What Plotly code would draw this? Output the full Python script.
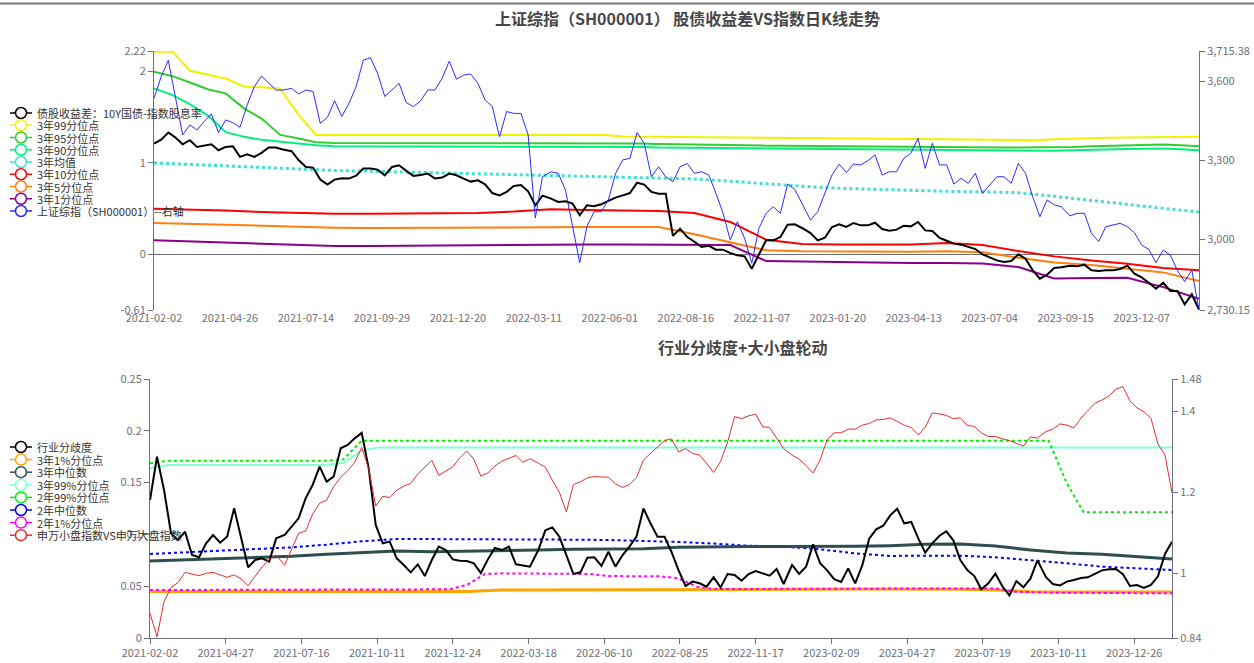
import numpy as np
import pandas as pd
import plotly.graph_objects as go

# ---------------- trading calendar ----------------
HOLIDAYS = [
    "2021-02-11", "2021-02-12", "2021-02-15", "2021-02-16", "2021-02-17", "2021-04-05",
    "2021-05-03", "2021-05-04", "2021-05-05", "2021-06-14", "2021-09-20", "2021-09-21",
    "2021-10-01", "2021-10-04", "2021-10-05", "2021-10-06", "2021-10-07",
    "2022-01-03", "2022-01-31", "2022-02-01", "2022-02-02", "2022-02-03", "2022-02-04",
    "2022-04-04", "2022-04-05", "2022-05-02", "2022-05-03", "2022-05-04", "2022-06-03",
    "2022-09-12", "2022-10-03", "2022-10-04", "2022-10-05", "2022-10-06", "2022-10-07",
    "2023-01-02", "2023-01-23", "2023-01-24", "2023-01-25", "2023-01-26", "2023-01-27",
    "2023-04-05", "2023-05-01", "2023-05-02", "2023-05-03", "2023-06-22", "2023-06-23",
    "2023-09-29", "2023-10-02", "2023-10-03", "2023-10-04", "2023-10-05", "2023-10-06",
    "2024-01-01",
]
START, END = "2021-02-02", "2024-02-02"

TOP_TICKS = ["2021-02-02", "2021-04-26", "2021-07-14", "2021-09-29", "2021-12-20",
             "2022-03-11", "2022-06-01", "2022-08-16", "2022-11-07", "2023-01-20",
             "2023-04-13", "2023-07-04", "2023-09-15", "2023-12-07"]
BOT_TICKS = ["2021-02-02", "2021-04-27", "2021-07-16", "2021-10-11", "2021-12-24",
             "2022-03-18", "2022-06-10", "2022-08-25", "2022-11-17", "2023-02-09",
             "2023-04-27", "2023-07-19", "2023-10-11", "2023-12-26"]

# ---------------- top chart data ----------------
sh_index = [3535, 3618, 3680, 3542, 3396, 3434, 3415, 3447, 3476, 3405,
            3453, 3443, 3425, 3510, 3580, 3620, 3595, 3567, 3567, 3573,
            3552, 3567, 3561, 3440, 3463, 3526, 3466, 3516, 3580, 3680,
            3690, 3630, 3542, 3569, 3592, 3519, 3504, 3526, 3567, 3567,
            3611, 3677, 3608, 3624, 3628, 3592, 3529, 3504, 3389, 3485,
            3478, 3478, 3396, 3080, 3237, 3256, 3250, 3187, 3047, 2910,
            3047, 3104, 3104, 3149, 3250, 3301, 3307, 3405, 3364, 3237,
            3275, 3237, 3218, 3275, 3288, 3250, 3256, 3244, 3174, 3098,
            2996, 3066, 3003, 2908, 3041, 3098, 3123, 3098, 3209, 3189,
            3136, 3072, 3104, 3171, 3244, 3285, 3253, 3285, 3282, 3298,
            3320, 3244, 3256, 3256, 3307, 3326, 3383, 3269, 3364, 3282,
            3282, 3209, 3231, 3212, 3250, 3174, 3206, 3237, 3237, 3212,
            3288, 3250, 3161, 3085, 3149, 3130, 3123, 3088, 3098, 3098,
            3022, 2990, 3047, 3053, 3060, 3047, 3024, 2977, 2961, 2910,
            2958, 2939, 2880, 2838, 2882, 2730.15]

spread = [1.209, 1.252, 1.329, 1.274, 1.201, 1.245, 1.172, 1.183, 1.201, 1.136,
          1.172, 1.179, 1.063, 1.092, 1.063, 1.107, 1.165, 1.165, 1.143, 1.125,
          1.026, 0.953, 0.946, 0.815, 0.760, 0.815, 0.829, 0.826, 0.858, 0.935,
          0.935, 0.924, 0.862, 0.953, 0.972, 0.910, 0.855, 0.866, 0.880, 0.826,
          0.837, 0.880, 0.862, 0.826, 0.793, 0.807, 0.763, 0.668, 0.643, 0.680,
          0.745, 0.756, 0.687, 0.534, 0.640, 0.607, 0.571, 0.578, 0.552, 0.425,
          0.534, 0.523, 0.545, 0.582, 0.618, 0.643, 0.668, 0.781, 0.760, 0.680,
          0.661, 0.661, 0.200, 0.279, 0.187, 0.136, 0.078, 0.093, 0.049, 0.049,
          0.012, -0.013, -0.024, -0.159, 0.005, 0.151, 0.151, 0.187, 0.322, 0.326,
          0.286, 0.231, 0.151, 0.180, 0.297, 0.326, 0.297, 0.341, 0.315, 0.315,
          0.344, 0.275, 0.257, 0.268, 0.311, 0.304, 0.352, 0.260, 0.253, 0.177,
          0.147, 0.115, 0.104, 0.078, 0.056, -0.002, -0.031, -0.068, -0.086, -0.075,
          -0.002, -0.050, -0.177, -0.268, -0.225, -0.152, -0.144, -0.126, -0.133, -0.115,
          -0.177, -0.184, -0.177, -0.177, -0.162, -0.126, -0.213, -0.253, -0.312, -0.378,
          -0.312, -0.403, -0.403, -0.549, -0.439, -0.607]

p99_3y = [2.211, 2.211, 2.004, 1.964, 1.919, 1.829, 1.825, 1.810, 1.519, 1.303,
          1.303, 1.305, 1.306, 1.306, 1.306, 1.306, 1.306, 1.306, 1.306, 1.306,
          1.306, 1.306, 1.305, 1.305, 1.304, 1.303, 1.285, 1.283, 1.282, 1.281,
          1.280, 1.278, 1.275, 1.272, 1.269, 1.266, 1.264, 1.262, 1.260, 1.259,
          1.258, 1.257, 1.256, 1.256, 1.255, 1.254, 1.254, 1.253, 1.253, 1.246,
          1.255, 1.262, 1.271, 1.273, 1.276, 1.278, 1.280, 1.282, 1.282]

p95_3y = [1.993, 1.945, 1.876, 1.799, 1.757, 1.591, 1.482, 1.303, 1.263, 1.223,
          1.216, 1.216, 1.216, 1.216, 1.216, 1.216, 1.216, 1.216, 1.216, 1.216,
          1.216, 1.216, 1.216, 1.216, 1.216, 1.216, 1.216, 1.208, 1.205, 1.201,
          1.198, 1.195, 1.192, 1.189, 1.186, 1.184, 1.182, 1.180, 1.179, 1.177,
          1.176, 1.174, 1.173, 1.171, 1.170, 1.168, 1.167, 1.166, 1.165, 1.165,
          1.166, 1.170, 1.179, 1.184, 1.190, 1.195, 1.198, 1.190, 1.179]

p90_3y = [1.810, 1.738, 1.639, 1.508, 1.333, 1.282, 1.249, 1.227, 1.205, 1.190,
          1.179, 1.179, 1.179, 1.178, 1.178, 1.178, 1.177, 1.177, 1.176, 1.176,
          1.175, 1.175, 1.174, 1.174, 1.173, 1.173, 1.172, 1.172, 1.165, 1.165,
          1.163, 1.161, 1.159, 1.158, 1.156, 1.155, 1.153, 1.152, 1.150, 1.148,
          1.146, 1.144, 1.142, 1.140, 1.138, 1.136, 1.134, 1.132, 1.130, 1.128,
          1.130, 1.136, 1.143, 1.147, 1.150, 1.152, 1.154, 1.146, 1.136]

mean_3y = [0.997, 0.979, 0.961, 0.943, 0.925, 0.914, 0.906, 0.897, 0.889, 0.881,
           0.873, 0.862, 0.851, 0.844, 0.833, 0.822, 0.797, 0.768, 0.742, 0.720,
           0.705, 0.698, 0.687, 0.680, 0.672, 0.632, 0.585, 0.541, 0.501, 0.461]

p10_3y = [0.497, 0.490, 0.476, 0.461, 0.450, 0.443, 0.443, 0.446, 0.450, 0.450,
          0.465, 0.490, 0.483, 0.479, 0.472, 0.450, 0.352, 0.158, 0.111, 0.107,
          0.107, 0.107, 0.122, 0.100, 0.034, -0.024, -0.068, -0.104, -0.152, -0.177]

p5_3y = [0.341, 0.330, 0.319, 0.308, 0.297, 0.290, 0.286, 0.286, 0.290, 0.290,
         0.293, 0.293, 0.297, 0.297, 0.297, 0.217, 0.133, 0.042, 0.031, 0.027,
         0.023, 0.027, 0.031, 0.020, -0.039, -0.090, -0.119, -0.163, -0.199, -0.294]

p1_3y = [0.151, 0.140, 0.129, 0.115, 0.100, 0.089, 0.089, 0.093, 0.096, 0.096,
         0.100, 0.104, 0.107, 0.107, 0.107, 0.104, 0.100, -0.075, -0.082, -0.090,
         -0.097, -0.097, -0.097, -0.101, -0.141, -0.265, -0.261, -0.257, -0.360, -0.487]

TOP_NAMES = ["债股收益差：10Y国债-指数股息率", "3年99分位点", "3年95分位点", "3年90分位点",
             "3年均值", "3年10分位点", "3年5分位点", "3年1分位点", "上证综指（SH000001）--右轴"]

# ---------------- bottom chart data ----------------
divergence = [0.1332, 0.1750, 0.1429, 0.1010, 0.0946, 0.1026, 0.0801, 0.0779, 0.0914, 0.0994,
              0.0920, 0.0978, 0.1252, 0.0962, 0.0682, 0.0753, 0.0769, 0.0737, 0.0962, 0.0994,
              0.1075, 0.1155, 0.1348, 0.1477, 0.1654, 0.1509, 0.1557, 0.1831, 0.1863, 0.1927,
              0.1980, 0.1638, 0.1091, 0.0914, 0.0930, 0.0769, 0.0705, 0.0634, 0.0711, 0.0598,
              0.0753, 0.0882, 0.0849, 0.0759, 0.0746, 0.0743, 0.0721, 0.0627, 0.0759, 0.0869,
              0.0849, 0.0882, 0.0711, 0.0698, 0.0689, 0.0849, 0.1039, 0.1068, 0.0978, 0.0801,
              0.0618, 0.0634, 0.0775, 0.0779, 0.0695, 0.0833, 0.0689, 0.0798, 0.0882, 0.0978,
              0.1250, 0.1107, 0.0978, 0.0978, 0.0830, 0.0656, 0.0502, 0.0544, 0.0528, 0.0495,
              0.0586, 0.0489, 0.0618, 0.0608, 0.0553, 0.0618, 0.0647, 0.0624, 0.0602, 0.0666,
              0.0521, 0.0705, 0.0618, 0.0689, 0.0904, 0.0721, 0.0653, 0.0569, 0.0541, 0.0672,
              0.0528, 0.0698, 0.0959, 0.1049, 0.1084, 0.1184, 0.1248, 0.1107, 0.1120, 0.0962,
              0.0824, 0.0914, 0.0985, 0.1030, 0.0943, 0.0753, 0.0656, 0.0598, 0.0470, 0.0528,
              0.0621, 0.0499, 0.0412, 0.0550, 0.0489, 0.0573, 0.0750, 0.0589, 0.0521, 0.0508,
              0.0544, 0.0560, 0.0579, 0.0586, 0.0621, 0.0653, 0.0663, 0.0666, 0.0615, 0.0502,
              0.0512, 0.0483, 0.0512, 0.0595, 0.0811, 0.0930]

small_vs_large = [0.901, 0.843, 0.930, 0.965, 0.977, 1.002, 0.998, 0.994, 1.000, 1.002,
                  0.996, 0.990, 0.996, 0.986, 0.969, 0.991, 1.016, 1.034, 1.045, 1.020,
                  1.058, 1.099, 1.104, 1.146, 1.173, 1.181, 1.214, 1.237, 1.253, 1.274,
                  1.311, 1.258, 1.166, 1.190, 1.187, 1.205, 1.215, 1.222, 1.245, 1.263,
                  1.279, 1.242, 1.252, 1.263, 1.285, 1.302, 1.282, 1.240, 1.248, 1.265,
                  1.277, 1.284, 1.291, 1.274, 1.283, 1.272, 1.262, 1.230, 1.200, 1.151,
                  1.219, 1.226, 1.236, 1.239, 1.238, 1.237, 1.221, 1.212, 1.219, 1.236,
                  1.280, 1.296, 1.314, 1.328, 1.332, 1.300, 1.308, 1.296, 1.292, 1.272,
                  1.249, 1.276, 1.324, 1.387, 1.382, 1.389, 1.393, 1.362, 1.360, 1.333,
                  1.308, 1.292, 1.282, 1.266, 1.248, 1.280, 1.330, 1.347, 1.347, 1.356,
                  1.356, 1.366, 1.370, 1.379, 1.380, 1.384, 1.374, 1.366, 1.360, 1.342,
                  1.361, 1.396, 1.394, 1.390, 1.382, 1.384, 1.365, 1.363, 1.347, 1.338,
                  1.338, 1.332, 1.328, 1.321, 1.314, 1.337, 1.334, 1.350, 1.356, 1.369,
                  1.366, 1.359, 1.383, 1.402, 1.420, 1.428, 1.438, 1.455, 1.461, 1.426,
                  1.409, 1.399, 1.383, 1.319, 1.292, 1.198]

d_p1_3y = [0.0450, 0.0450, 0.0450, 0.0450, 0.0450, 0.0450, 0.0450, 0.0450, 0.0450, 0.0450,
           0.0463, 0.0463, 0.0463, 0.0463, 0.0463, 0.0463, 0.0463, 0.0463, 0.0463, 0.0470,
           0.0473, 0.0473, 0.0473, 0.0470, 0.0463, 0.0447, 0.0444, 0.0444, 0.0444, 0.0444]

d_med_3y = [0.0743, 0.0753, 0.0766, 0.0775, 0.0788, 0.0808, 0.0827, 0.0840, 0.0833, 0.0837,
            0.0840, 0.0849, 0.0856, 0.0859, 0.0862, 0.0875, 0.0882, 0.0882, 0.0882, 0.0882,
            0.0885, 0.0891, 0.0904, 0.0907, 0.0888, 0.0849, 0.0820, 0.0808, 0.0785, 0.0763]

d_p99_3y = [0.1638] + [0.1670] * 10 + [0.1692, 0.1808] + [0.1840] * 46

d_p99_2y = [0.1686] + [0.1712] * 10 + [0.1725] + [0.1905] * 40 + [0.1493] + [0.1213] * 6

d_med_2y = [0.0811, 0.0827, 0.0846, 0.0859, 0.0875, 0.0901, 0.0933, 0.0956, 0.0956, 0.0956,
            0.0956, 0.0952, 0.0949, 0.0946, 0.0940, 0.0927, 0.0911, 0.0891, 0.0882, 0.0856,
            0.0817, 0.0792, 0.0795, 0.0795, 0.0779, 0.0753, 0.0721, 0.0689, 0.0672, 0.0656]

d_p1_2y = ([0.0463] * 17 + [0.0470, 0.0512, 0.0618] + [0.0624] * 5 + [0.0618, 0.0598]
           + [0.0595] * 3 + [0.0576, 0.0495] + [0.0473] * 7 + [0.0479] * 10
           + [0.0447, 0.0441, 0.0438, 0.0437, 0.0436, 0.0435, 0.0434, 0.0433, 0.0432, 0.0431])

BOT_NAMES = ["行业分歧度", "3年1%分位点", "3年中位数", "3年99%分位点", "2年99%分位点",
             "2年中位数", "2年1%分位点", "申万小盘指数VS申万大盘指数"]

# ---------------- build ----------------
cal = pd.bdate_range(START, END)
cal = cal[~cal.isin(pd.to_datetime(HOLIDAYS))]


def days(n):
    idx = np.linspace(0, len(cal) - 1, n).round().astype(int)
    return [d.strftime("%Y-%m-%d") for d in cal[idx]]


W, H = 1254, 663       # page body margin is removed by the post script below
FONT = "Noto Sans CJK SC, Noto Sans, sans-serif"
AX = "#6e7079"


def px(xw):  # pixel -> paper x
    return xw / W


def py(yw):  # pixel -> paper y
    return 1 - yw / H


fig = go.Figure()


def line(y, color, width, xa, ya, dash="solid"):
    fig.add_trace(go.Scatter(x=days(len(y)), y=y, mode="lines", xaxis=xa, yaxis=ya,
                             line=dict(color=color, width=width, dash=dash),
                             showlegend=False, hoverinfo="skip"))


# top chart
TOP_COLORS = ["#000000", "#f2f200", "#32cd32", "#00f07a", "#40e0d0",
              "#ff0000", "#ff7f0e", "#8b008b", "#2b2bff"]
line(p99_3y, TOP_COLORS[1], 2, "x", "y")
line(p95_3y, TOP_COLORS[2], 2, "x", "y")
line(p90_3y, TOP_COLORS[3], 2, "x", "y")
line(mean_3y, TOP_COLORS[4], 3, "x", "y", "dot")
line(p10_3y, TOP_COLORS[5], 2, "x", "y")
line(p5_3y, TOP_COLORS[6], 2, "x", "y")
line(p1_3y, TOP_COLORS[7], 2, "x", "y")
line(spread, TOP_COLORS[0], 2, "x", "y")
line(sh_index, TOP_COLORS[8], 1, "x", "y2")

# bottom chart
BOT_COLORS = ["#000000", "#ffa500", "#2f4f4f", "#7fffd4", "#00ee00",
              "#0000ff", "#ff00ff", "#e0302f"]
line(d_p1_3y, BOT_COLORS[1], 3, "x2", "y3")
line(d_p99_3y, BOT_COLORS[3], 2, "x2", "y3")
line(d_p99_2y, BOT_COLORS[4], 2, "x2", "y3", "dot")
line(d_med_2y, BOT_COLORS[5], 2, "x2", "y3", "dot")
line(d_p1_2y, BOT_COLORS[6], 2, "x2", "y3", "dot")
line(d_med_3y, BOT_COLORS[2], 3, "x2", "y3")
line(divergence, BOT_COLORS[0], 2, "x2", "y3")
line(small_vs_large, BOT_COLORS[7], 1, "x2", "y4")

# compact legends (echarts-style: line + open circle, 12px rows)
annotations = []
shapes = [dict(type="line", xref="paper", yref="paper", x0=0, x1=1, y0=py(3.5), y1=py(3.5),
               line=dict(color="#777777", width=2))]


def legend_block(names, colors, y0, step):
    for i, (n, c) in enumerate(zip(names, colors)):
        yc = y0 + step * i
        shapes.append(dict(type="line", xref="paper", yref="paper",
                           x0=px(10), x1=px(32), y0=py(yc), y1=py(yc),
                           line=dict(color=c, width=1.5)))
        shapes.append(dict(type="circle", xref="paper", yref="paper",
                           x0=px(21 - 5.5), x1=px(21 + 5.5), y0=py(yc + 5.5), y1=py(yc - 5.5),
                           line=dict(color=c, width=1.5), fillcolor="white"))
        annotations.append(dict(text=n, x=px(36), y=py(yc), xref="paper", yref="paper",
                                xanchor="left", yanchor="middle", showarrow=False,
                                height=12, borderpad=0,
                                font=dict(size=11, color="#333", family=FONT)))


legend_block(TOP_NAMES, TOP_COLORS, 113, 12.25)
legend_block(BOT_NAMES, BOT_COLORS, 447, 12.6)

annotations += [
    dict(text="<b>上证综指（SH000001） 股债收益差VS指数日K线走势</b>", x=px(687), y=py(18),
         xref="paper", yref="paper", showarrow=False, xanchor="center", yanchor="middle",
         font=dict(size=16, color="#464646", family=FONT)),
    dict(text="<b>行业分歧度+大小盘轮动</b>", x=px(742), y=py(347),
         xref="paper", yref="paper", showarrow=False, xanchor="center", yanchor="middle",
         font=dict(size=16, color="#464646", family=FONT)),
]

rb = [dict(bounds=["sat", "mon"]), dict(values=HOLIDAYS)]
XRANGE = [cal[0].strftime("%Y-%m-%d"), cal[-1].strftime("%Y-%m-%d")]
xcommon = dict(type="date", range=XRANGE, rangebreaks=rb, showgrid=False, zeroline=False,
               tickfont=dict(size=11, color=AX, family=FONT))
ycommon = dict(showgrid=False, showline=True, linecolor=AX, linewidth=1,
               ticks="outside", ticklen=5, tickcolor=AX,
               tickfont=dict(size=11, color=AX, family=FONT))

fig.update_layout(
    width=W, height=H,
    margin=dict(l=0, r=0, t=0, b=0, autoexpand=False),
    paper_bgcolor="white", plot_bgcolor="white",
    font=dict(family=FONT, size=11, color="#333"),
    hovermode=False, showlegend=False,
    xaxis=dict(domain=[px(154), px(1199)], anchor="y", tickvals=TOP_TICKS, ticktext=TOP_TICKS,
               showline=False, ticks="", **xcommon),
    # tick marks hanging from the zero line of the upper chart
    xaxis3=dict(overlaying="x", anchor="free", position=py(254), domain=[px(154), px(1199)],
                tickvals=TOP_TICKS, showticklabels=False, showline=False,
                ticks="outside", ticklen=5, tickcolor=AX, **xcommon),
    yaxis=dict(domain=[py(310), py(51)], anchor="x", range=[-0.61, 2.22],
               tickvals=[-0.61, 0, 1, 2, 2.22], ticktext=["-0.61", "0", "1", "2", "2.22"],
               zeroline=True, zerolinecolor=AX, zerolinewidth=1, **ycommon),
    yaxis2=dict(overlaying="y", side="right", anchor="x", range=[2730.15, 3715.38],
                tickvals=[2730.15, 3000, 3300, 3600, 3715.38],
                ticktext=["2,730.15", "3,000", "3,300", "3,600", "3,715.38"],
                zeroline=False, **ycommon),
    xaxis2=dict(domain=[px(150), px(1172)], anchor="y3", tickvals=BOT_TICKS, ticktext=BOT_TICKS,
                showline=True, linecolor=AX, ticks="outside", ticklen=5, tickcolor=AX,
                **xcommon),
    yaxis3=dict(domain=[py(638), py(379)], anchor="x2", range=[0, 0.25],
                tickvals=[0, 0.05, 0.1, 0.15, 0.2, 0.25],
                ticktext=["0", "0.05", "0.1", "0.15", "0.2", "0.25"], zeroline=False, **ycommon),
    yaxis4=dict(overlaying="y3", side="right", anchor="x2", range=[0.84, 1.48],
                tickvals=[0.84, 1, 1.2, 1.4, 1.48],
                ticktext=["0.84", "1", "1.2", "1.4", "1.48"], zeroline=False, **ycommon),
    annotations=annotations,
    shapes=shapes,
)

fig.write_html("out.html",
               config={"displayModeBar": False, "staticPlot": True},
               post_script="document.body.style.margin='0px';"
                           "document.body.style.overflow='hidden';")
